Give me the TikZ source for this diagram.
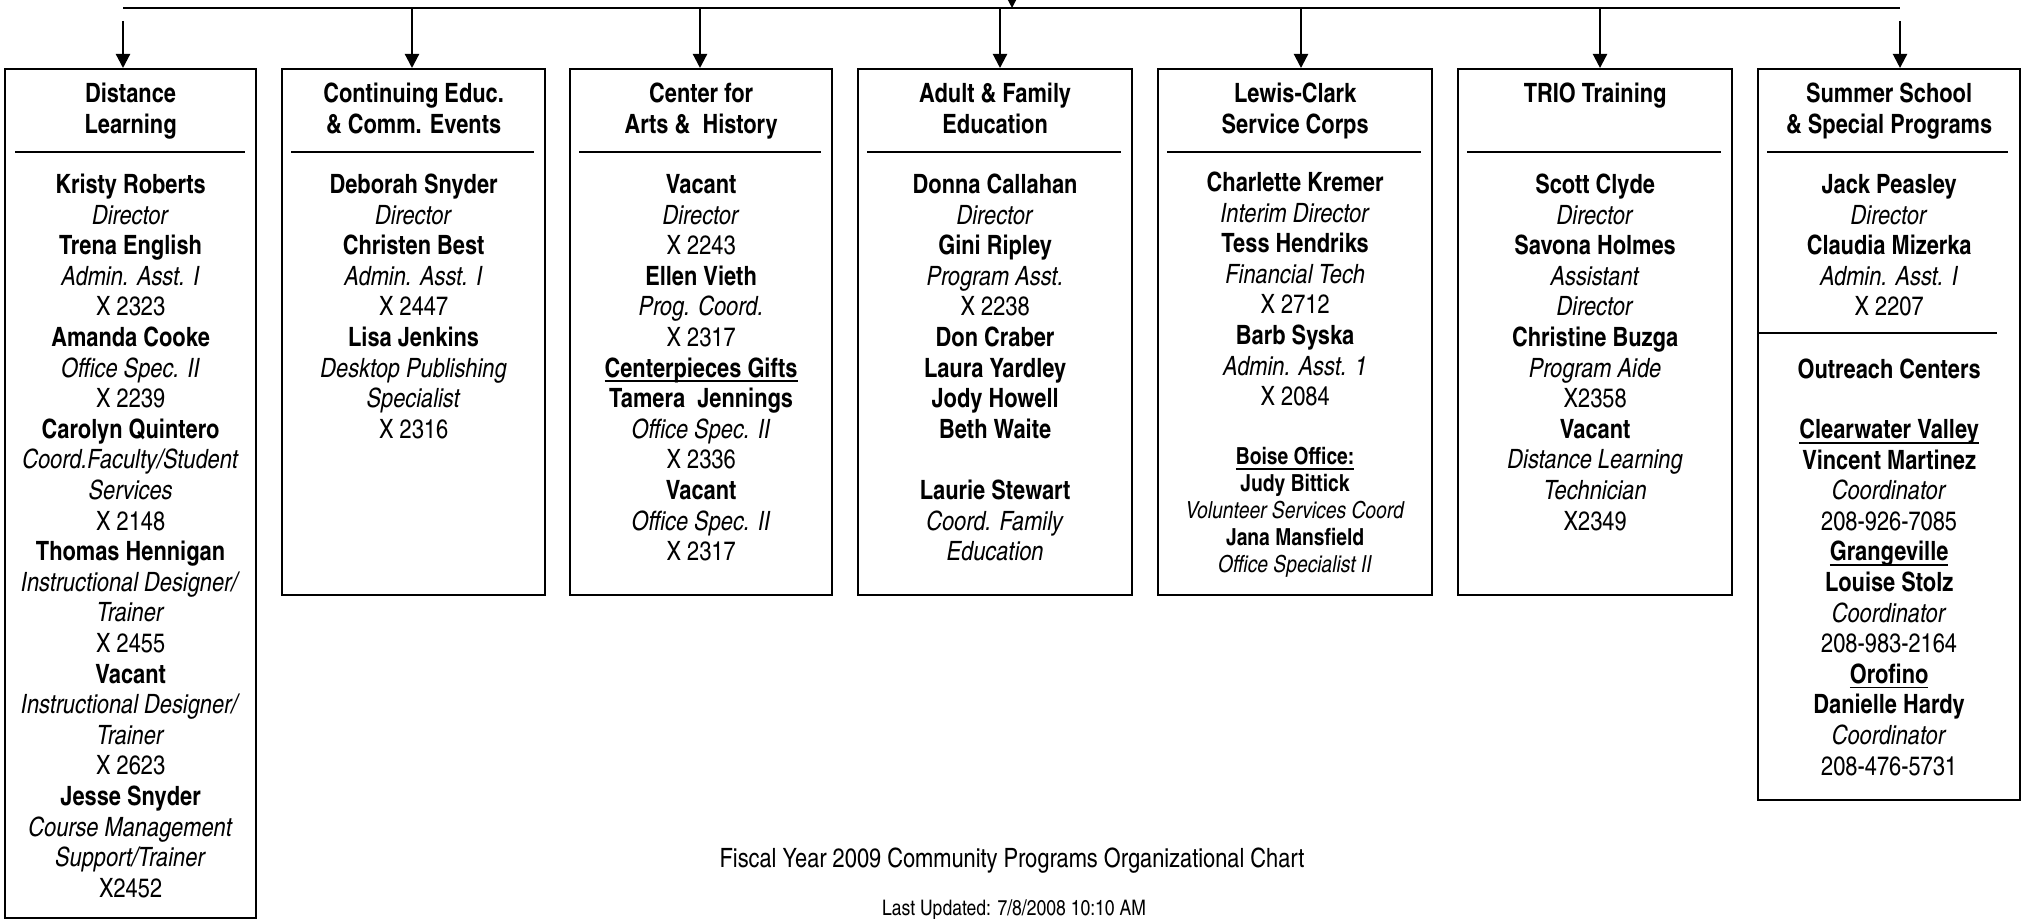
\documentclass[tikz,border=0pt]{standalone}
\usepackage{fontspec}
\setmainfont{texgyreheroscn}[Extension=.otf, UprightFont=*-regular, BoldFont=*-bold, ItalicFont=*-italic, BoldItalicFont=*-bolditalic]
\usetikzlibrary{arrows.meta}
\newcommand\pname[1]{\textbf{#1}}
\newcommand\prole[1]{\textit{#1}}
\newcommand\uln[1]{\setbox0\hbox{#1}\leavevmode\rlap{\rule[-2.6pt]{\wd0}{0.9pt}}\box0}
\tikzset{
  box/.style={draw, line width=1.1pt, rectangle, inner sep=0pt, anchor=north west},
  divline/.style={line width=1.1pt},
  arr/.style={line width=1.1pt, -{Triangle[width=7pt,length=7pt]}},
  txt/.style={align=center, inner sep=0pt, anchor=north, font=\fontsize{13.3}{15.3}\selectfont},
  head/.style={txt, font=\fontsize{13.3}{15.3}\selectfont\bfseries},
  smalltxt/.style={align=center, inner sep=0pt, anchor=north, font=\fontsize{11.75}{13.5}\selectfont},
  foot/.style={inner sep=0pt, anchor=base},
}
\begin{document}
\begin{tikzpicture}[x=0.5pt,y=-0.5pt]
\useasboundingbox (0,0) rectangle (2021,919);
\clip (0,0) rectangle (2021,919);
\fill[white] (0,0) rectangle (2021,919);

% boxes
\node[box, minimum width=125.5pt, minimum height=424.5pt] (b1) at (4,68) {};
\node[box, minimum width=131.5pt, minimum height=263pt] (b2) at (281,68) {};
\node[box, minimum width=131pt, minimum height=263pt] (b3) at (569,68) {};
\node[box, minimum width=137pt, minimum height=263pt] (b4) at (857,68) {};
\node[box, minimum width=137pt, minimum height=263pt] (b5) at (1157,68) {};
\node[box, minimum width=137pt, minimum height=263pt] (b6) at (1457,68) {};
\node[box, minimum width=131pt, minimum height=365.5pt] (b7) at (1757,68) {};

% dividers
\draw[divline] (15,152) -- (245,152);
\draw[divline] (291,152) -- (534,152);
\draw[divline] (579,152) -- (821,152);
\draw[divline] (867,152) -- (1121,152);
\draw[divline] (1167,152) -- (1421,152);
\draw[divline] (1467,152) -- (1721,152);
\draw[divline] (1767,152) -- (2008,152);
\draw[divline] (1757,333) -- (1997,333);

% top bus and arrows
\coordinate (busL) at (123,8);
\coordinate (busR) at (1900,8);
\draw[divline] (busL) -- (busR);
\coordinate (topin) at (1012,-30);
\coordinate (topout) at (1012,8);
\draw[arr] (topin) -- (topout);
\coordinate (s1) at (123,21);
\coordinate (s2) at (412,8);
\coordinate (s3) at (700,8);
\coordinate (s4) at (1000,8);
\coordinate (s5) at (1301,8);
\coordinate (s6) at (1600,8);
\coordinate (s7) at (1900,21);
\draw[arr] (s1) -- (s1 |- b1.north);
\draw[arr] (s2) -- (s2 |- b2.north);
\draw[arr] (s3) -- (s3 |- b3.north);
\draw[arr] (s4) -- (s4 |- b4.north);
\draw[arr] (s5) -- (s5 |- b5.north);
\draw[arr] (s6) -- (s6 |- b6.north);
\draw[arr] (s7) -- (s7 |- b7.north);

% headers
\node[head] (h1) at (b1.center |- 0,80.6) {\strut Distance\\Learning};
\node[head] (h2) at (b2.center |- 0,80.6) {\strut Continuing Educ.\\\& Comm. Events};
\node[head] (h3) at (b3.center |- 0,80.6) {\strut Center for\\Arts \&\ \ History};
\node[head] (h4) at (b4.center |- 0,80.6) {\strut Adult \& Family\\Education};
\node[head] (h5) at (b5.center |- 0,80.6) {\strut Lewis-Clark\\Service Corps};
\node[head] (h6) at (b6.center |- 0,80.6) {\strut TRIO Training};
\node[head] (h7) at (b7.center |- 0,80.6) {\strut Summer School\\\& Special Programs};

% bodies
\node[txt] (t1) at (b1.center |- 0,171.6) {\strut\pname{Kristy Roberts}\\\prole{Director}\\\pname{Trena English}\\\prole{Admin. Asst. I}\\X 2323\\\pname{Amanda Cooke}\\\prole{Office Spec. II}\\X 2239\\\pname{Carolyn Quintero}\\\prole{Coord.Faculty/Student}\\\prole{Services}\\X 2148\\\pname{Thomas Hennigan}\\\prole{Instructional Designer/}\\\prole{Trainer}\\X 2455\\\pname{Vacant}\\\prole{Instructional Designer/}\\\prole{Trainer}\\X 2623\\\pname{Jesse Snyder}\\\prole{Course Management}\\\prole{Support/Trainer}\\X2452};

\node[txt] (t2) at (b2.center |- 0,171.6) {\strut\pname{Deborah Snyder}\\\prole{Director}\\\pname{Christen Best}\\\prole{Admin. Asst. I}\\X 2447\\\pname{Lisa Jenkins}\\\prole{Desktop Publishing}\\\prole{Specialist}\\X 2316};

\node[txt] (t3) at (b3.center |- 0,171.6) {\strut\pname{Vacant}\\\prole{Director}\\X 2243\\\pname{Ellen Vieth}\\\prole{Prog. Coord.}\\X 2317\\\uln{\pname{Centerpieces Gifts}}\\\pname{Tamera\ \ Jennings}\\\prole{Office Spec. II}\\X 2336\\\pname{Vacant}\\\prole{Office Spec. II}\\X 2317};

\node[txt] (t4) at (b4.center |- 0,171.6) {\strut\pname{Donna Callahan}\\\prole{Director}\\\pname{Gini Ripley}\\\prole{Program Asst.}\\X 2238\\\pname{Don Craber}\\\pname{Laura Yardley}\\\pname{Jody Howell}\\\pname{Beth Waite}\\\mbox{}\\\pname{Laurie Stewart}\\\prole{Coord. Family}\\\prole{Education}};

\node[txt] (t5) at (b5.center |- 0,169.6) {\strut\pname{Charlette Kremer}\\\prole{Interim Director}\\\pname{Tess Hendriks}\\\prole{Financial Tech}\\X 2712\\\pname{Barb Syska}\\\prole{Admin. Asst. 1}\\X 2084};
\node[smalltxt] (t5b) at (b5.center |- 0,445) {\strut\uln{\pname{Boise Office:}}\\\pname{Judy Bittick}\\\prole{Volunteer Services Coord}\\\pname{Jana Mansfield}\\\prole{Office Specialist II}};

\node[txt] (t6) at (b6.center |- 0,171.6) {\strut\pname{Scott Clyde}\\\prole{Director}\\\pname{Savona Holmes}\\\prole{Assistant}\\\prole{Director}\\\pname{Christine Buzga}\\\prole{Program Aide}\\X2358\\\pname{Vacant}\\\prole{Distance Learning}\\\prole{Technician}\\X2349};

\node[txt] (t7) at (b7.center |- 0,171.6) {\strut\pname{Jack Peasley}\\\prole{Director}\\\pname{Claudia Mizerka}\\\prole{Admin. Asst. I}\\X 2207};
\node[txt] (t7o) at (b7.center |- 0,356.6) {\strut\pname{Outreach Centers}};
\node[txt] (t7b) at (b7.center |- 0,416.6) {\strut\uln{\pname{Clearwater Valley}}\\\pname{Vincent Martinez}\\\prole{Coordinator}\\208-926-7085\\\uln{\pname{Grangeville}}\\\pname{Louise Stolz}\\\prole{Coordinator}\\208-983-2164\\\uln{\pname{Orofino}}\\\pname{Danielle Hardy}\\\prole{Coordinator}\\208-476-5731};

% footer
\node[foot, font=\fontsize{13.3}{15.3}\selectfont] (f1) at (1012,867) {Fiscal Year 2009 Community Programs Organizational Chart};
\node[foot, font=\fontsize{10.7}{12.5}\selectfont] (f2) at (1014,915) {Last Updated: 7/8/2008 10:10 AM};
\end{tikzpicture}
\end{document}
